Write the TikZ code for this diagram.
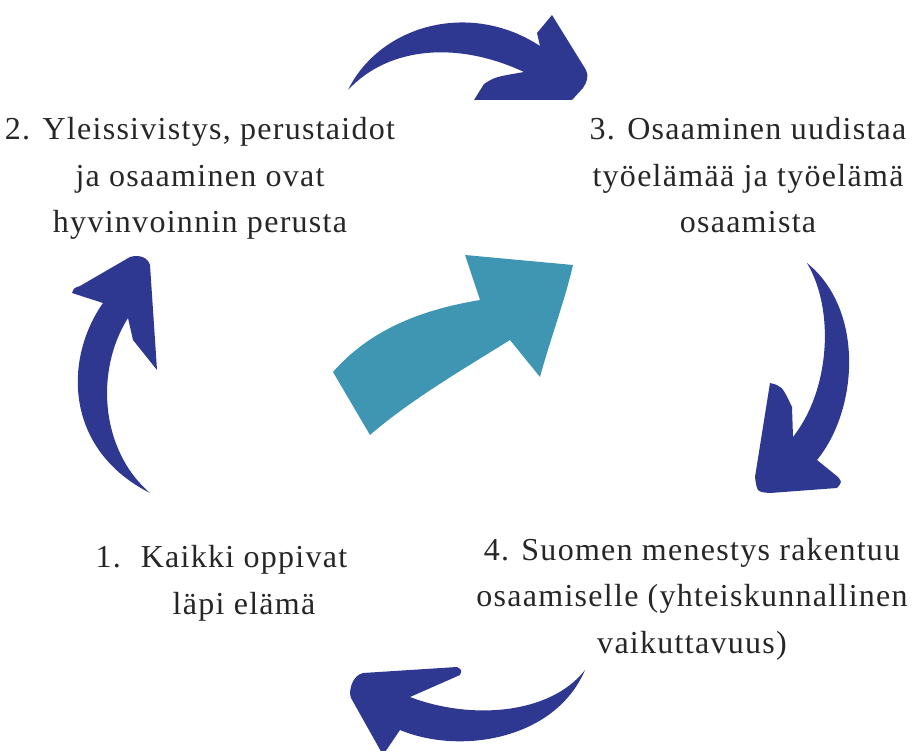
\documentclass[tikz,border=0pt]{standalone}
\usepackage{fontspec}
\setmainfont{Liberation Serif}[LetterSpace=4]
\definecolor{arrowblue}{RGB}{46,56,145}
\definecolor{arrowteal}{RGB}{62,150,178}
\begin{document}
\begin{tikzpicture}[x=1pt,y=-1pt,
  lbl/.style={align=center,inner sep=0pt,anchor=base,text=black!85,
    font=\fontsize{32}{46.5}\selectfont},
  bluearrow/.style={fill=arrowblue,draw=none},
  tealarrow/.style={fill=arrowteal,draw=none}]
\useasboundingbox (0,0) rectangle (924,751);
\clip (0,0) rectangle (924,751);
% texts (anchor = baseline of last line)
\node[lbl] (t2) at (200,233) {2. Yleissivistys, perustaidot\\ja osaaminen ovat\\hyvinvoinnin perusta};
\node[lbl] (t3) at (748,233) {3. Osaaminen uudistaa\\työelämää ja työelämä\\osaamista};
\node[lbl] (t4) at (692,653) {4. Suomen menestys rakentuu\\osaamiselle (yhteiskunnallinen\\vaikuttavuus)};
\node[lbl] (t1) at (244,614) {\llap{1.\hspace{20pt}}Kaikki oppivat\\läpi elämä};
% top arrow (2 -> 3)
\fill[bluearrow] (348,90) .. controls (380,25) and (470,0) .. (540,46)
  -- (537,33) -- (552,15) -- (586,70) .. controls (589,76) and (587,82) .. (583,88)
  -- (572,100) -- (474,100) -- (484,84) .. controls (495,77) .. (524,72)
  .. controls (460,42) and (390,45) .. (348,90) -- cycle;
% right arrow (3 -> 4)
\fill[bluearrow] (807,263) .. controls (865,310) and (858,410) .. (817,460)
  -- (838,477) .. controls (842,482) .. (837,488)
  -- (770,493) .. controls (757,492) .. (755,477)
  -- (770,383) .. controls (782,386) .. (792,407)
  -- (793,437) .. controls (830,390) and (835,310) .. (807,263) -- cycle;
% bottom arrow (4 -> 1)
\fill[bluearrow] (585,670) .. controls (555,740) and (460,755) .. (400,730)
  -- (383,755) -- (351,698) .. controls (348,690) and (353,675) .. (363,673)
  -- (457,667) .. controls (462,670) .. (460,675)
  -- (410,697) .. controls (470,720) and (550,715) .. (585,670) -- cycle;
% left arrow (1 -> 2)
\fill[bluearrow] (150,493) .. controls (65,450) and (63,360) .. (103,303)
  -- (72,293) .. controls (74,288) .. (80,286)
  -- (130,257) .. controls (140,254) and (148,258) .. (150,265)
  -- (157,370) -- (133,340) -- (128,318)
  .. controls (95,370) and (100,450) .. (150,493) -- cycle;
% centre arrow
\fill[tealarrow] (333,372) .. controls (370,330) and (420,310) .. (480,300)
  -- (465,255) -- (573,265) .. controls (565,300) and (550,340) .. (540,377)
  -- (510,340) .. controls (470,365) and (410,400) .. (370,435) -- cycle;
\end{tikzpicture}
\end{document}
